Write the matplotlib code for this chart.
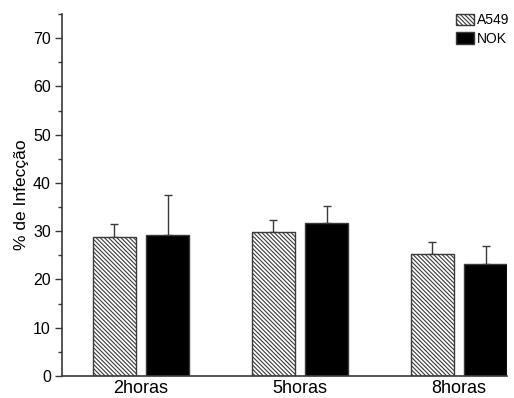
import numpy as np
import matplotlib
matplotlib.use("Agg")
import matplotlib.pyplot as plt
from matplotlib.ticker import MultipleLocator

plt.rcParams['font.family'] = ['Liberation Sans', 'DejaVu Sans']
plt.rcParams['hatch.linewidth'] = 0.8

# --- data ---
groups = ["2horas", "5horas", "8horas"]
a549 = [28.7, 29.9, 25.2]
a549_err = [2.8, 2.4, 2.5]
nok = [29.3, 31.6, 23.3]
nok_err = [8.3, 3.6, 3.7]

edge = "#3a3a3a"
x = np.arange(len(groups))
w = 0.27
off = 0.168

fig = plt.figure(figsize=(5.14, 3.98), dpi=100)
ax = fig.add_axes([0.1206, 0.0553, 0.8658, 0.9095])

ax.bar(x - off, a549, w, color="white", edgecolor=edge, hatch="\\" * 8,
       linewidth=1.0, label="A549", zorder=2)
ax.bar(x + off, nok, w, color="black", edgecolor=edge,
       linewidth=1.0, label="NOK", zorder=2)

# upper error bars only
ax.errorbar(x - off, a549, yerr=[np.zeros(3), a549_err], fmt="none",
            ecolor=edge, elinewidth=1.0, capsize=2.8, capthick=1.0, zorder=1)
ax.errorbar(x + off, nok, yerr=[np.zeros(3), nok_err], fmt="none",
            ecolor=edge, elinewidth=1.0, capsize=2.8, capthick=1.0, zorder=1)

ax.set_xlim(-0.497, 2.303)
ax.set_ylim(0, 75)
ax.yaxis.set_major_locator(MultipleLocator(10))
ax.yaxis.set_minor_locator(MultipleLocator(5))
ax.set_xticks(x)
ax.set_xticklabels(groups, fontsize=13)
ax.tick_params(axis="x", length=0, pad=3)
ax.tick_params(axis="y", which="major", length=5, width=1.0, color=edge,
               labelsize=11.5, direction="out", pad=3)
ax.tick_params(axis="y", which="minor", length=3, width=1.0, color=edge,
               direction="out")

for s in ["top", "right"]:
    ax.spines[s].set_visible(False)
for s in ["left", "bottom"]:
    ax.spines[s].set_color(edge)
    ax.spines[s].set_linewidth(1.2)

ax.set_ylabel("% de Infecção", fontsize=12.5, labelpad=3)

leg = ax.legend(loc="upper right", bbox_to_anchor=(1.012, 1.01), frameon=False,
                fontsize=10, handlelength=1.3, handleheight=0.9,
                handletextpad=0.2, labelspacing=0.35, borderaxespad=0.0,
                borderpad=0.2)

fig.savefig("out.png", dpi=100)
